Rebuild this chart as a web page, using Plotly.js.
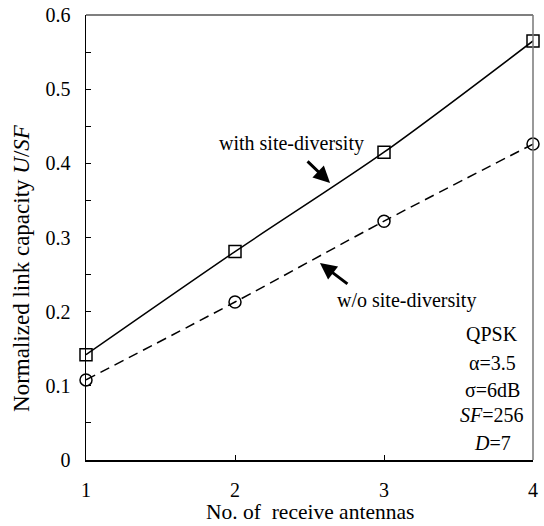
<!DOCTYPE html>
<html>
<head>
<meta charset="utf-8">
<script src="https://cdn.plot.ly/plotly-3.0.1.min.js"></script>
<style>html,body{margin:0;padding:0;background:#fff;}#chart{width:544px;height:526px;}</style>
</head>
<body>
<div id="chart"></div>
<script>
const antennas = [1, 2, 3, 4];
const withSiteDiversity = [0.142, 0.281, 0.415, 0.565];
const withoutSiteDiversity = [0.108, 0.213, 0.322, 0.426];
const xTickVals = [1, 2, 3, 4];
const yTickVals = [0, 0.1, 0.2, 0.3, 0.4, 0.5, 0.6];
const yTickText = ['0', '0.1', '0.2', '0.3', '0.4', '0.5', '0.6'];
const paramLines = ['QPSK', 'α=3.5', 'σ=6dB', '<i>SF</i>=256', '<i>D</i>=7'];
const paramY = [0.170, 0.131, 0.094, 0.061, 0.023];

const FONT = 'Liberation Serif, Times New Roman, serif';
const fs = 20;

const traces = [
  {x: antennas, y: withSiteDiversity, type: 'scatter', mode: 'lines+markers',
   line: {color: '#000', width: 1.5, shape: 'spline', smoothing: 0.8},
   marker: {symbol: 'square-open', size: 12, color: '#000', line: {width: 1.5, color: '#000'}},
   cliponaxis: false, showlegend: false},
  {x: antennas, y: withoutSiteDiversity, type: 'scatter', mode: 'lines+markers',
   line: {color: '#000', width: 1.5, dash: '10px,6px', shape: 'spline', smoothing: 0.8},
   marker: {symbol: 'circle-open', size: 12, color: '#000', line: {width: 1.5, color: '#000'}},
   cliponaxis: false, showlegend: false}
];

const annotations = [
  {x: 2.376, y: 0.4274, xref: 'x', yref: 'y', text: 'with site-diversity', showarrow: false,
   font: {family: FONT, size: fs, color: '#000'}},
  {x: 3.154, y: 0.2157, xref: 'x', yref: 'y', text: 'w/o site-diversity', showarrow: false,
   font: {family: FONT, size: fs, color: '#000'}},
  {x: 2.638, y: 0.3735, xref: 'x', yref: 'y', ax: -24, ay: -23, text: '', showarrow: true,
   arrowhead: 2, arrowsize: 1.1, arrowwidth: 3, arrowcolor: '#000'},
  {x: 2.570, y: 0.2656, xref: 'x', yref: 'y', ax: 29, ay: 22, text: '', showarrow: true,
   arrowhead: 2, arrowsize: 1.1, arrowwidth: 3, arrowcolor: '#000'},
  {x: 0.5, y: 0, xref: 'paper', yref: 'paper', yanchor: 'bottom', yshift: -65, borderpad: 0,
   text: 'No. of  receive antennas', showarrow: false,
   font: {family: FONT, size: 21.5, color: '#000'}},
  {x: 0, y: 0.259, xref: 'paper', yref: 'y', xanchor: 'center', yanchor: 'middle', xshift: -64,
   textangle: -90, borderpad: 0, showarrow: false,
   text: 'Normalized link capacity <i>U</i>/<i>SF</i>',
   font: {family: FONT, size: 23, color: '#000'}}
];
paramLines.forEach((t, i) => {
  annotations.push({x: 3.725, y: paramY[i], xref: 'x', yref: 'y', text: t, showarrow: false,
    font: {family: FONT, size: fs, color: '#000'}});
});

const layout = {
  width: 544, height: 526,
  margin: {l: 86, r: 11, t: 15, b: 66},
  paper_bgcolor: '#fff', plot_bgcolor: '#fff',
  font: {family: FONT, size: fs, color: '#000'},
  xaxis: {
    range: [1, 4], tickvals: xTickVals, ticks: 'inside', ticklen: 5, tickwidth: 1, tickcolor: '#000',
    showline: true, linecolor: '#000', linewidth: 1.5, showgrid: false, zeroline: false,
    tickfont: {family: FONT, size: fs, color: '#000'}, ticklabelstandoff: 11
  },
  yaxis: {
    range: [0, 0.6], tickvals: yTickVals, ticktext: yTickText, ticks: 'inside', ticklen: 5, tickwidth: 1, tickcolor: '#000',
    minor: {dtick: 0.05, tick0: 0, ticks: 'inside', ticklen: 5, tickwidth: 1, tickcolor: '#000', showgrid: false},
    showline: true, linecolor: '#000', linewidth: 1.5, showgrid: false, zeroline: false,
    tickfont: {family: FONT, size: fs, color: '#000'}, ticklabelstandoff: 10
  },
  shapes: [
    {type: 'line', xref: 'paper', yref: 'paper', x0: 0, x1: 1, y0: 1, y1: 1, line: {color: '#555', width: 1.5}},
    {type: 'line', xref: 'paper', yref: 'paper', x0: 1, x1: 1, y0: 0, y1: 1, line: {color: '#777', width: 1.5}}
  ],
  annotations: annotations
};

Plotly.newPlot('chart', traces, layout, {displayModeBar: false, staticPlot: true});
</script>
</body>
</html>
